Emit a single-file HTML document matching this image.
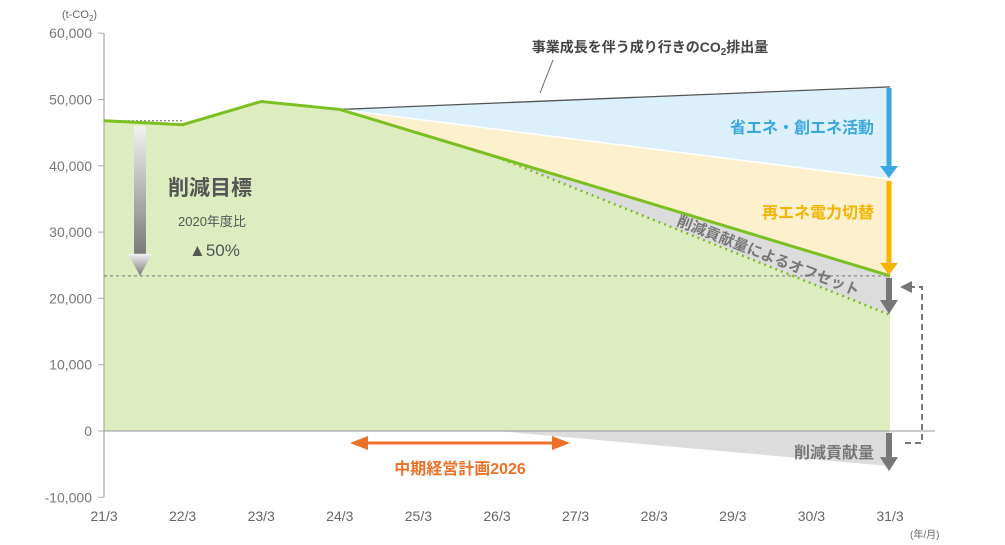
<!DOCTYPE html>
<html><head><meta charset="utf-8"><style>
body{margin:0;background:#fff;width:1005px;height:545px;overflow:hidden}
svg{display:block;font-family:"Liberation Sans","Noto Sans CJK JP",sans-serif}
</style></head><body>
<svg id="c" width="1005" height="545" viewBox="0 0 1005 545"></svg>
<script>
const categories=["21/3","22/3","23/3","24/3","25/3","26/3","27/3","28/3","29/3","30/3","31/3"];
const yTicks=[60000,50000,40000,30000,20000,10000,0,-10000];
const yTickLabels=["60,000","50,000","40,000","30,000","20,000","10,000","0","-10,000"];
const actualIdx=[0,1,2,3,10];
const actualValues=[46800,46200,49700,48500,23400];
const bauIdx=[3,10];
const bauValues=[48500,51900];
const energySaveIdx=[3,10];
const energySaveValues=[48500,38000];
const offsetIdx=[5,10];
const offsetValues=[41330,17500];
const contribIdx=[5,10];
const contribValues=[0,-5300];
const targetValue=23400;
const baseValue=46800;

const NS="http://www.w3.org/2000/svg";
const svg=document.getElementById('c');
const X0=104,DX=78.6,Y0=431,SC=66.3/10000;
const x=i=>X0+i*DX, y=v=>Y0-v*SC;
function el(t,a,p){const e=document.createElementNS(NS,t);for(const k in a)e.setAttribute(k,a[k]);(p||svg).appendChild(e);return e;}
function pts(ix,vs){return ix.map((i,k)=>x(i)+','+y(vs[k])).join(' ');}
function valAt(ix,vs,i){for(let k=0;k<ix.length-1;k++){if(i>=ix[k]&&i<=ix[k+1]){const t=(i-ix[k])/(ix[k+1]-ix[k]);return vs[k]+t*(vs[k+1]-vs[k]);}}return vs[vs.length-1];}

const defs=el('defs',{});
const g=el('linearGradient',{id:'ga',x1:0,y1:0,x2:0,y2:1},defs);
el('stop',{offset:'0','stop-color':'#f2f2f2'},g);el('stop',{offset:'1','stop-color':'#7a7a7a'},g);

// blue region
let e=el('polygon',{points:pts(bauIdx,bauValues)+' '+pts(energySaveIdx.slice().reverse(),energySaveValues.slice().reverse()),fill:'#dbf0fb'});

// yellow region
const lastA=actualValues[actualValues.length-1];
e=el('polygon',{points:pts(energySaveIdx,energySaveValues)+' '+x(10)+','+y(lastA)+' '+x(3)+','+y(actualValues[3]),fill:'#fdf0cc'});

// grey offset region
const o5=valAt(actualIdx,actualValues,offsetIdx[0]);
e=el('polygon',{points:x(offsetIdx[0])+','+y(o5)+' '+x(10)+','+y(lastA)+' '+pts([10],[offsetValues[1]]),fill:'#dcdcdc'});

// green area
let gp=pts(actualIdx.slice(0,4),actualValues.slice(0,4))+' '+x(offsetIdx[0])+','+y(o5)+' '+pts(offsetIdx,offsetValues)+' '+x(10)+','+y(0)+' '+x(0)+','+y(0);
e=el('polygon',{points:gp,fill:'#ddedbf'});

// contribution grey below zero
e=el('polygon',{points:pts(contribIdx,contribValues)+' '+x(10)+','+y(0),fill:'#dcdcdc'});


// axes
e=el('line',{x1:X0,y1:y(60000),x2:X0,y2:y(-10000),stroke:'#aaa','stroke-width':1.2});

e=el('line',{x1:X0,y1:Y0,x2:935,y2:Y0,stroke:'#999','stroke-width':1});

yTicks.forEach((v,k)=>{
 const t=el('line',{x1:X0-6,y1:y(v),x2:X0,y2:y(v),stroke:'#aaa'});
 
 const l=el('text',{x:X0-12,y:y(v)+5,'text-anchor':'end','font-size':14,fill:'#777'});l.textContent=yTickLabels[k];
 
});
categories.forEach((c,i)=>{
 const l=el('text',{x:x(i),y:521,'text-anchor':'middle','font-size':14,fill:'#666'});l.textContent=c;
 
});
e=el('text',{x:62,y:18,'font-size':11,fill:'#666'});e.innerHTML='(t-CO<tspan font-size="8" dy="3">2</tspan><tspan dy="-3">)</tspan>';

e=el('text',{x:910,y:538,'font-size':10,fill:'#666'});e.textContent='(年/月)';


// target dashed lines
e=el('line',{x1:X0,y1:y(targetValue),x2:x(10),y2:y(targetValue),stroke:'#777','stroke-dasharray':'3,3'});

e=el('line',{x1:X0,y1:y(baseValue),x2:x(1),y2:y(baseValue),stroke:'#666','stroke-dasharray':'2,2'});


// BAU line
e=el('polyline',{points:pts(bauIdx,bauValues),fill:'none',stroke:'#555','stroke-width':1.3});

e=el('polyline',{points:pts(energySaveIdx,energySaveValues),fill:'none',stroke:'#fff','stroke-width':1.5});

// offset dotted
e=el('polyline',{points:pts(offsetIdx,offsetValues),fill:'none',stroke:'#7cbf22','stroke-width':2.5,'stroke-dasharray':'2,4'});

// actual line
e=el('polyline',{points:pts(actualIdx,actualValues),fill:'none',stroke:'#7cbf22','stroke-width':3});


// arrows
function arrow(name,xc,y1,y2,w,color,hw,hh){
 const a=el('g',{});
 el('rect',{x:xc-w/2,y:y1,width:w,height:y2-y1-hh,fill:color},a);
 el('polygon',{points:(xc-hw)+','+(y2-hh)+' '+(xc+hw)+','+(y2-hh)+' '+xc+','+y2,fill:color},a);
}
const xa=x(10)-1;
arrow('energy-saving-arrow',xa,y(bauValues[1])+1,y(energySaveValues[1])-1,5,'#3aa7e0',9,12);
arrow('renewable-arrow',xa,y(energySaveValues[1])+2,y(lastA)-1,5,'#f4b400',9,12);
arrow('offset-arrow',xa,y(lastA)+2,y(offsetValues[1])-1,6,'#777',9,14);
arrow('contribution-arrow',xa,y(0)+2,y(contribValues[1])+5,6,'#777',9,14);
arrow('target-arrow',140,126,y(targetValue),12,'url(#ga)',12,22);

// dashed bracket
e=el('polyline',{points:'905,443 922,443 922,287 910,287',fill:'none',stroke:'#777','stroke-width':2,'stroke-dasharray':'6,4'});

e=el('polygon',{points:'900,287 912,281 912,293',fill:'#777'});


// medium-term plan arrow
e=el('g',{});
el('line',{x1:362,y1:443,x2:560,y2:443,stroke:'#ec7126','stroke-width':3},e);
el('polygon',{points:'350,443 368,436 368,450',fill:'#ec7126'},e);
el('polygon',{points:'570,443 552,436 552,450',fill:'#ec7126'},e);
e=el('text',{x:460,y:474,'text-anchor':'middle','font-size':16,'font-weight':'bold',fill:'#ec7126'});e.textContent='中期経営計画2026';


// labels
function txt(name,t,xx,yy,size,color,anchor,extra){const l=el('text',Object.assign({x:xx,y:yy,'font-size':size,fill:color,'text-anchor':anchor||'start','font-weight':'bold'},extra||{}));l.textContent=t;return l;}
txt('target-title','削減目標',168,195,21,'#555');
txt('target-basis','2020年度比',178,226,13,'#555','start',{'font-weight':'normal'});
txt('target-percent','▲50%',189,256,17,'#555','start',{'font-weight':'normal'});
txt('energy-saving-label','省エネ・創エネ活動',874,133,16,'#3aa7e0','end');
txt('renewable-label','再エネ電力切替',874,218,16,'#f4b400','end');
txt('contribution-label','削減貢献量',874,458,16,'#777','end');
txt('offset-label','削減貢献量によるオフセット',676,225,15,'#777','start',{transform:'rotate(21.5 676 225)'});
e=el('text',{x:650,y:52,'text-anchor':'middle','font-size':14,'font-weight':'bold',fill:'#444'});
e.innerHTML='事業成長を伴う成り行きのCO<tspan font-size="10" dy="3">2</tspan><tspan dy="-3">排出量</tspan>';

e=el('line',{x1:540,y1:93,x2:553,y2:60,stroke:'#666','stroke-width':1});

</script>
</body></html>
